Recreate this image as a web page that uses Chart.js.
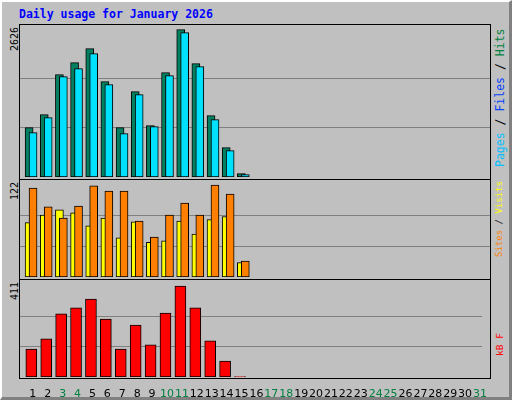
<!DOCTYPE html>
<html><head><meta charset="utf-8">
<script src="https://cdn.jsdelivr.net/npm/chart.js@4"></script>
<style>
body{margin:0;background:#fff;}
#frame{position:absolute;left:0;top:0;background:#c0c0c0;border-left:2px solid #fff;border-top:2px solid #fff;border-right:3px solid #808080;border-bottom:3px solid #808080;box-sizing:border-box;width:512px;height:400px;}
.t{position:absolute;font-family:"DejaVu Sans Mono",monospace;font-size:12px;white-space:nowrap;line-height:1;}
.rot{transform-origin:0 0;transform:rotate(-90deg);}
canvas{position:absolute;}
.box{position:absolute;border:1px solid #000;box-sizing:border-box;}
</style></head><body>
<div id="frame"></div>
<div class="t" style="left:19px;top:9px;color:#0000ff;font-weight:bold;font-size:11.5px;">Daily usage for January 2026</div>
<div class="t rot" style="left:10px;top:51px;font-size:10px;">2626</div>
<div class="t rot" style="left:10px;top:200px;font-size:10px;">122</div>
<div class="t rot" style="left:10px;top:300px;font-size:10px;">411</div>
<div class="t rot" style="left:495px;top:167px;font-size:11.5px;"><span style="color:#00c0ff">Pages</span> / <span style="color:#0040ff">Files</span> / <span style="color:#008040">Hits</span></div>
<div class="t rot" style="left:495px;top:257px;font-size:9px;"><span style="color:#ff8000">Sites</span> / <span style="color:#ffff00">Visits</span></div>
<div class="t rot" style="left:495px;top:356px;font-size:9.5px;"><span style="color:#ff0000">kB F</span></div>
<div class="box" style="left:19px;top:24px;width:472px;height:156px;"></div>
<div class="box" style="left:19px;top:179px;width:472px;height:101px;"></div>
<div class="box" style="left:19px;top:279px;width:472px;height:100px;"></div>
<canvas id="c1" style="left:20px;top:25px;width:470px;height:152px" width="470" height="152"></canvas>
<canvas id="c2" style="left:20px;top:180px;width:470px;height:97px" width="470" height="97"></canvas>
<canvas id="c3" style="left:20px;top:280px;width:470px;height:118px" width="470" height="118"></canvas>
<script>
const days = Array.from({length:31},(_,i)=>i+1);
const weekendDays = [3,4,10,11,17,18,24,25,31];
const hits  = [880,1112,1825,2039,2288,1700,880,1522,916,1860,2626,2021,1094,524,60];
const files = [791,1058,1789,1932,2199,1647,773,1468,898,1807,2573,1967,1023,470,43];
const sites = [72,82,89,85,68,78,52,73,46,48,74,57,76,80,19];
const visits= [118,93,78,94,121,114,114,74,53,82,98,82,122,110,21];
const kbytes= [126,172,285,312,352,262,126,235,145,289,411,312,163,72,2];
const maxHits=2626, maxVisits=122, maxKB=411;

function pts(arr,off){return arr.map((v,i)=>({x:i+1+off,y:v}));}
function ds(arr,off,color,w,order){return {data:pts(arr,off),backgroundColor:color,borderColor:'#000',borderWidth:1,borderSkipped:false,barThickness:w,grouped:false,order};}
function mk(id,datasets,max,top,showX){
  new Chart(document.getElementById(id),{type:'bar',data:{datasets},
   options:{responsive:false,animation:false,events:[],layout:{padding:0},
    plugins:{legend:{display:false},tooltip:{enabled:false}},
    scales:{
     x:{type:'linear',min:0.14,max:31.14,offset:false,display:showX,
        grid:{display:false},border:{display:false},
        afterBuildTicks:s=>{s.ticks=days.map(d=>({value:d}));},
        afterFit:s=>{s.height=showX?21:0;},
        ticks:{autoSkip:false,maxRotation:0,padding:3,font:{family:'DejaVu Sans',size:11},
          color:c=>weekendDays.includes(c.tick.value)?'#008040':'#000',callback:v=>String(v)}},
     y:{min:0,max:top,display:true,border:{display:false},
        afterBuildTicks:s=>{s.ticks=[{value:max/3},{value:2*max/3}];},
        afterFit:s=>{s.width=0;},
        grid:{color:'#808080',drawTicks:false,lineWidth:1},ticks:{display:false}}}}});
}
mk('c1',[ds(hits,-0.26,'#008060',8,1),ds(files,0,'#00e0ff',8,0)],maxHits,2626*152/147.4,false);
mk('c2',[ds(sites,-0.26,'#ffff00',8,1),ds(visits,0,'#ff8000',8,0)],maxVisits,122*97/92,false);
mk('c3',[ds(kbytes,-0.1,'#ff0000',11,0)],maxKB,411*97/91,true);
</script>
</body></html>
